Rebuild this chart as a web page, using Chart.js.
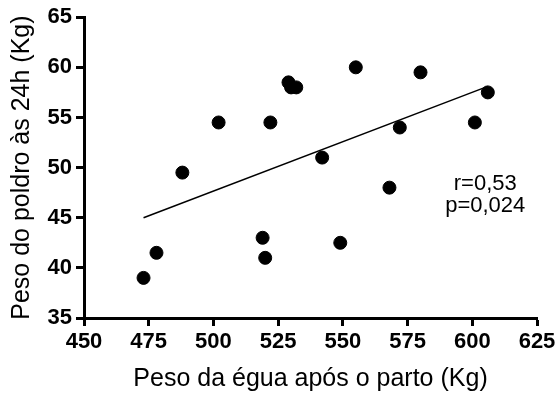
<!DOCTYPE html>
<html><head><meta charset="utf-8">
<script src="https://cdn.jsdelivr.net/npm/chart.js@4/dist/chart.umd.min.js"></script>
<style>html,body{margin:0;padding:0;background:#fff}#wrap{width:560px;height:398px}</style>
</head><body><div id="wrap"><canvas id="c" width="560" height="398"></canvas></div>
<script>
const mareWeight = [473, 478, 488, 502, 519, 520, 522, 529, 530, 532, 542, 549, 555, 568, 572, 580, 601, 606];
const foalWeight = [39, 41.5, 49.5, 54.5, 43, 41, 54.5, 58.5, 58, 58, 51, 42.5, 60, 48, 54, 59.5, 54.5, 57.5];
const fitX = [473, 606];
const fitY = [45.0, 58.1];
const statsText = ['r=0,53', 'p=0,024'];
const xTitle = 'Peso da égua após o parto (Kg)';
const yTitle = 'Peso do poldro às 24h (Kg)';

const FONT = '"Liberation Sans", Arial, sans-serif';

const statsPlugin = {
  id: 'stats',
  afterDatasetsDraw(chart) {
    const ctx = chart.ctx;
    const xs = chart.scales.x, ys = chart.scales.y;
    ctx.save();
    ctx.fillStyle = '#000';
    ctx.font = '22px ' + FONT;
    ctx.textAlign = 'center';
    ctx.textBaseline = 'middle';
    const cx = xs.getPixelForValue(605);
    ctx.fillText(statsText[0], cx, ys.getPixelForValue(48.4));
    ctx.fillText(statsText[1], cx, ys.getPixelForValue(46.2));
    ctx.restore();
  }
};

const axisCommon = {
  grid: { display: true, drawOnChartArea: false, drawTicks: true, tickLength: 8, tickWidth: 3, tickColor: '#000' },
  border: { display: true, width: 3, color: '#000' },
};

new Chart(document.getElementById('c'), {
  type: 'scatter',
  data: {
    datasets: [
      {
        data: mareWeight.map((x, i) => ({ x, y: foalWeight[i] })),
        backgroundColor: '#000', borderColor: '#000',
        pointRadius: 6.5, pointHoverRadius: 6.5, showLine: false
      },
      {
        data: fitX.map((x, i) => ({ x, y: fitY[i] })),
        showLine: true, borderColor: '#000', borderWidth: 1.5, pointRadius: 0, fill: false
      }
    ]
  },
  options: {
    responsive: false, animation: false, devicePixelRatio: 1,
    layout: { padding: { top: 16, right: 23, left: 0, bottom: 0 } },
    plugins: { legend: { display: false }, tooltip: { enabled: false } },
    scales: {
      x: {
        type: 'linear', min: 450, max: 625,
        ...axisCommon,
        ticks: { stepSize: 25, color: '#000', font: { family: FONT, size: 22, weight: 'bold' }, padding: 3, maxRotation: 0 },
        title: { display: true, text: xTitle, color: '#000', font: { family: FONT, size: 25 }, padding: { top: 6, bottom: 4 } },
        afterFit(s) { s.height = 80; }
      },
      y: {
        type: 'linear', min: 35, max: 65,
        ...axisCommon,
        ticks: { stepSize: 5, color: '#000', font: { family: FONT, size: 22, weight: 'bold' }, padding: 4 },
        title: { display: true, text: yTitle, color: '#000', font: { family: FONT, size: 25 }, padding: { top: 7, bottom: 4 } },
        afterFit(s) { s.width = 84; }
      }
    }
  },
  plugins: [statsPlugin]
});
</script></body></html>
